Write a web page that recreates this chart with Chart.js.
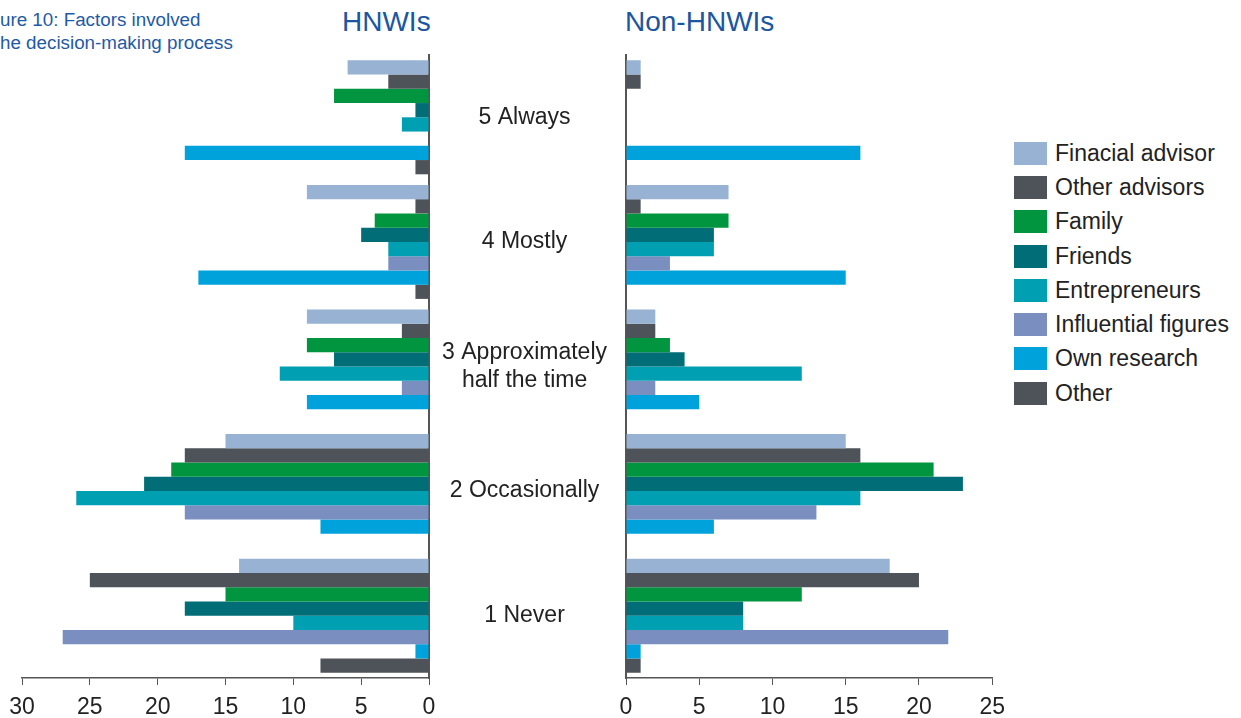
<!DOCTYPE html>
<html>
<head>
<meta charset="utf-8">
<title>Factors involved in the decision-making process</title>
<script src="https://cdn.jsdelivr.net/npm/chart.js@4.4.0/dist/chart.umd.min.js"></script>
<style>
    body { margin: 0; width: 1241px; height: 718px; overflow: hidden; background: #fff; position: relative;
           font-family: "Liberation Sans", Arial, Helvetica, sans-serif; }
    #caption { position: absolute; left: 0; top: 8px; font-size: 18.8px; line-height: 23px; color: #1f5aa6; }
    .panel-title { position: absolute; top: 6px; font-size: 28px; color: #1a56a1; white-space: nowrap; }
    .chart-box { position: absolute; top: 0; height: 718px; }
    #legend { position: absolute; left: 1014px; top: 136px; }
    .legend-row { display: flex; align-items: center; height: 34.3px; font-size: 23px; color: #222; white-space: nowrap; }
    .swatch { width: 33px; height: 23px; margin-right: 8px; flex: none; }
</style>
</head>
<body>
<div id="caption">ure 10: Factors involved<br>he decision-making process</div>
<div class="panel-title" style="left:342px">HNWIs</div>
<div class="panel-title" style="left:625px">Non-HNWIs</div>

<div class="chart-box" style="left:0; width:440px"><canvas id="hnwiChart"></canvas></div>
<div class="chart-box" style="left:429px; width:585px"><canvas id="nonHnwiChart"></canvas></div>
<div id="legend"></div>

<script>
// categories top to bottom
const categories = ['5 Always', '4 Mostly', ['3 Approximately', 'half the time'], '2 Occasionally', '1 Never'];
const seriesNames = ['Finacial advisor', 'Other advisors', 'Family', 'Friends', 'Entrepreneurs',
                     'Influential figures', 'Own research', 'Other'];
const seriesColors = ['#97b2d2', '#4e535a', '#00953e', '#006d77', '#009fb2', '#7a8fc0', '#00a2dc', '#4e535a'];

// HNWIs (per category, same order as categories)
const hnwiFinancialAdvisor = [6, 9, 9, 15, 14];
const hnwiOtherAdvisors    = [3, 1, 2, 18, 25];
const hnwiFamily           = [7, 4, 9, 19, 15];
const hnwiFriends          = [1, 5, 7, 21, 18];
const hnwiEntrepreneurs    = [2, 3, 11, 26, 10];
const hnwiInfluential      = [0, 3, 2, 18, 27];
const hnwiOwnResearch      = [18, 17, 9, 8, 1];
const hnwiOther            = [1, 1, 0, 0, 8];

// Non-HNWIs
const nonFinancialAdvisor = [1, 7, 2, 15, 18];
const nonOtherAdvisors    = [1, 1, 2, 16, 20];
const nonFamily           = [0, 7, 3, 21, 12];
const nonFriends          = [0, 6, 4, 23, 8];
const nonEntrepreneurs    = [0, 6, 12, 16, 8];
const nonInfluential      = [0, 3, 2, 13, 22];
const nonOwnResearch      = [16, 15, 5, 6, 1];
const nonOther            = [0, 0, 0, 0, 1];

const hnwiTicks = [0, 5, 10, 15, 20, 25, 30];
const nonHnwiTicks = [0, 5, 10, 15, 20, 25];

const hnwiSeries = [hnwiFinancialAdvisor, hnwiOtherAdvisors, hnwiFamily, hnwiFriends,
                    hnwiEntrepreneurs, hnwiInfluential, hnwiOwnResearch, hnwiOther];
const nonHnwiSeries = [nonFinancialAdvisor, nonOtherAdvisors, nonFamily, nonFriends,
                       nonEntrepreneurs, nonInfluential, nonOwnResearch, nonOther];

Chart.defaults.font.family = '"Liberation Sans", Arial, Helvetica, sans-serif';
Chart.defaults.color = '#222';

function makeDatasets(series) {
    return series.map((values, i) => ({
        label: seriesNames[i],
        data: values,
        backgroundColor: seriesColors[i],
        borderWidth: 0,
        barPercentage: 1,
        categoryPercentage: 0.915
    }));
}

const axisColor = '#555';

// left panel, value axis runs right to left
new Chart(document.getElementById('hnwiChart'), {
    type: 'bar',
    data: { labels: categories, datasets: makeDatasets(hnwiSeries) },
    options: {
        indexAxis: 'y',
        responsive: true,
        maintainAspectRatio: false,
        animation: false,
        layout: { padding: { left: 22, right: 11, top: 55, bottom: 0 } },
        plugins: { legend: { display: false }, tooltip: { enabled: false } },
        scales: {
            x: {
                reverse: true,
                min: hnwiTicks[0],
                max: hnwiTicks[hnwiTicks.length - 1],
                afterBuildTicks: scale => { scale.ticks = hnwiTicks.map(v => ({ value: v })); },
                ticks: { font: { size: 23 }, padding: 9, maxRotation: 0 },
                grid: { drawOnChartArea: false, tickLength: 7, color: axisColor },
                border: { color: axisColor, width: 1.5 },
                afterFit: scale => { scale.height = 40; }
            },
            y: {
                position: 'right',
                ticks: { display: false },
                grid: { display: false },
                border: { color: axisColor, width: 2 },
                afterFit: scale => { scale.width = 0; }
            }
        }
    }
});

// right panel, category labels sit in the gap on its left
new Chart(document.getElementById('nonHnwiChart'), {
    type: 'bar',
    data: { labels: categories, datasets: makeDatasets(nonHnwiSeries) },
    options: {
        indexAxis: 'y',
        responsive: true,
        maintainAspectRatio: false,
        animation: false,
        layout: { padding: { left: 0, right: 0, top: 55, bottom: 0 } },
        plugins: { legend: { display: false }, tooltip: { enabled: false } },
        scales: {
            x: {
                min: nonHnwiTicks[0],
                max: nonHnwiTicks[nonHnwiTicks.length - 1],
                afterBuildTicks: scale => { scale.ticks = nonHnwiTicks.map(v => ({ value: v })); },
                ticks: { font: { size: 23 }, padding: 9, maxRotation: 0 },
                grid: { drawOnChartArea: false, tickLength: 7, color: axisColor },
                border: { color: axisColor, width: 1.5 },
                afterFit: scale => { scale.height = 40; }
            },
            y: {
                position: 'left',
                ticks: { font: { size: 23 }, crossAlign: 'center', padding: 11, color: '#222' },
                grid: { display: false },
                border: { color: axisColor, width: 2 },
                afterFit: scale => { scale.width = 197; }
            }
        }
    }
});

// legend
const legendEl = document.getElementById('legend');
seriesNames.forEach((name, i) => {
    const row = document.createElement('div');
    row.className = 'legend-row';
    row.innerHTML = `<span class="swatch" style="background:${seriesColors[i]}"></span><span>${name}</span>`;
    legendEl.appendChild(row);
});
</script>
</body>
</html>
